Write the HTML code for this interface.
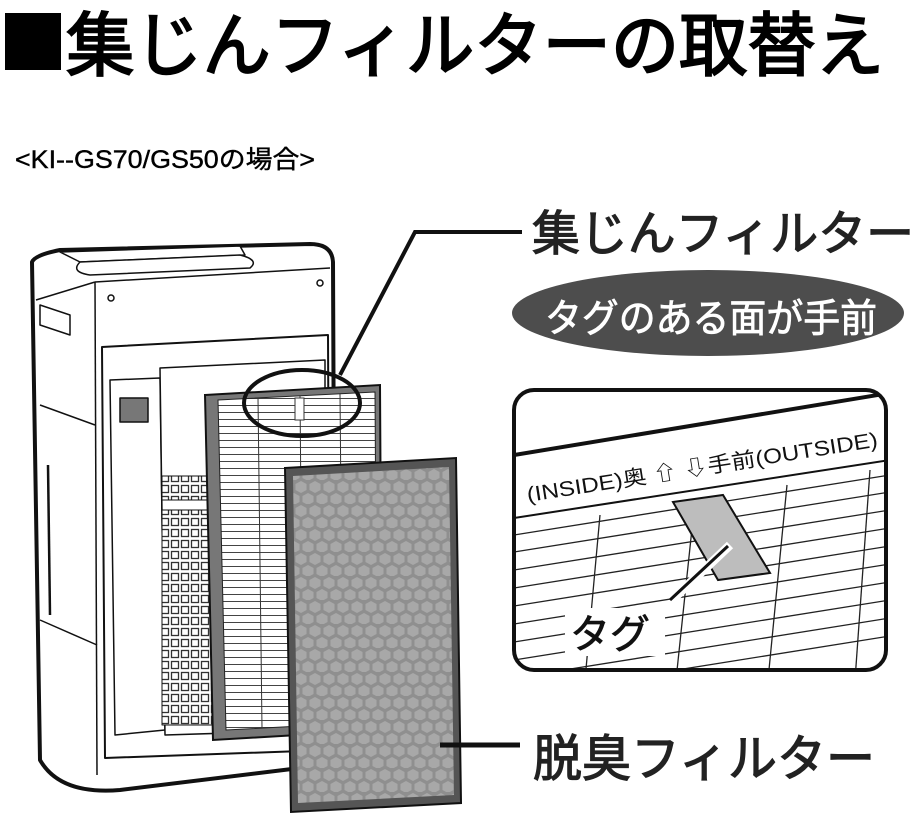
<!DOCTYPE html>
<html><head><meta charset="utf-8"><style>
html,body{margin:0;padding:0;background:#fff;}
svg{display:block;font-family:"Liberation Sans","Noto Sans CJK JP",sans-serif;}
</style></head><body>
<svg width="924" height="820" viewBox="0 0 924 820" xmlns="http://www.w3.org/2000/svg">
<defs>
<pattern id="hex" width="14" height="24" patternUnits="userSpaceOnUse">
<rect width="14" height="24" fill="#8f8f8f"/>
<polygon points="7,1 12.5,4 12.5,10 7,13 1.5,10 1.5,4" fill="#a8a8a8"/>
<polygon points="0,13 5.5,16 5.5,22 0,25 -5.5,22 -5.5,16" fill="#a8a8a8"/>
<polygon points="14,13 19.5,16 19.5,22 14,25 8.5,22 8.5,16" fill="#a8a8a8"/>
</pattern>
<pattern id="pleat" width="6" height="7" patternUnits="userSpaceOnUse">
<rect width="6" height="7" fill="#fff"/><line x1="0" y1="6.5" x2="6" y2="6.5" stroke="#444" stroke-width="1"/>
</pattern>
<pattern id="grid" width="10" height="11" patternUnits="userSpaceOnUse">
<rect width="10" height="11" fill="#fff"/><rect x="1.5" y="1.5" width="7" height="7" fill="none" stroke="#333" stroke-width="1.3"/>
</pattern>
<clipPath id="cb"><rect x="514" y="390" width="372" height="280" rx="20"/></clipPath>
</defs>

<!-- title -->
<rect x="5" y="13" width="56" height="57" fill="#000"/>
<text x="66" y="70" font-size="70" textLength="818" lengthAdjust="spacingAndGlyphs" stroke="#000" stroke-width="2">集じんフィルターの取替え</text>
<text x="15" y="168" font-size="25" textLength="300" lengthAdjust="spacingAndGlyphs" stroke="#000" stroke-width="0.4">&lt;KI--GS70/GS50の場合&gt;</text>

<!-- purifier body -->
<g fill="#fff" stroke="#111" stroke-linejoin="round">
<path d="M32,262 Q35,255 60,250 L310,244 Q332,244 333,262 L335,730 Q335,760 300,768 L120,790 Q60,795 40,760 Z" stroke-width="4"/>
<path d="M60,252 L240,246 L245,255 L80,262 Z" stroke-width="1.5"/>
<path d="M80,262 L240,255 Q260,260 250,268 L90,275 Q70,272 80,262Z" stroke-width="1.5"/>
<path d="M95,282 L330,268" stroke-width="1.5"/>
<path d="M95,282 L97,775" stroke-width="1.5"/>
<path d="M36,300 L95,282" stroke-width="1.5"/>
<path d="M40,305 L70,315 L70,335 L40,325 Z" stroke-width="1.5"/>
<path d="M40,405 L95,425" stroke-width="1.5"/>
<path d="M40,620 L97,645" stroke-width="1.5"/>
<path d="M48,465 L50,615" stroke-width="2.5"/>
<circle cx="111" cy="298" r="3" stroke-width="1.5"/>
<circle cx="320" cy="283" r="3" stroke-width="1.5"/>
<path d="M102,347 L328,335 L330,750 L105,758 Z" stroke-width="2"/>
<path d="M110,380 L160,378 L165,730 L115,735 Z" stroke-width="1.5"/>
<rect x="120" y="398" width="28" height="24" fill="#777" stroke-width="1.5"/>
<path d="M160,368 L325,360 L325,730 L165,735 Z" stroke-width="1.5"/>
<rect x="162" y="476" width="50" height="24" fill="url(#grid)" stroke-width="1"/>
<rect x="162" y="510" width="50" height="215" fill="url(#grid)" stroke-width="1"/>
</g>

<!-- collection filter -->
<path d="M205,395 L380,385 L382,730 L213,740 Z" fill="#777" stroke="#111" stroke-width="2"/>
<path d="M218,400 L375,392 L377,722 L226,730 Z" fill="url(#pleat)" stroke="#222" stroke-width="1"/>
<g stroke="#333" stroke-width="1">
<line x1="258" y1="398" x2="262" y2="728"/><line x1="300" y1="396" x2="303" y2="726"/><line x1="340" y1="394" x2="343" y2="724"/>
</g>
<rect x="295" y="398" width="9" height="22" fill="#fff" stroke="#333" stroke-width="1"/>
<ellipse cx="302" cy="403" rx="58" ry="33" fill="none" stroke="#111" stroke-width="4"/>
<polyline points="340,375 415,232 522,232" fill="none" stroke="#111" stroke-width="4"/>

<!-- deodorizing filter -->
<path d="M285,468 L456,458 L461,803 L291,812 Z" fill="#555" stroke="#111" stroke-width="2"/>
<path d="M293,476 L449,467 L454,795 L298,803 Z" fill="url(#hex)"/>
<line x1="440" y1="745" x2="520" y2="745" stroke="#111" stroke-width="5"/>

<!-- labels -->
<text x="532" y="250" font-size="48" textLength="382" lengthAdjust="spacingAndGlyphs" fill="#222" stroke="#222" stroke-width="1.2">集じんフィルター</text>
<ellipse cx="708" cy="313" rx="196" ry="43" fill="#4d4d4d"/>
<text x="545" y="332" font-size="39" textLength="332" lengthAdjust="spacingAndGlyphs" fill="#fff" stroke="#fff" stroke-width="0.8">タグのある面が手前</text>
<text x="533" y="776" font-size="50" textLength="342" lengthAdjust="spacingAndGlyphs" fill="#222" stroke="#222" stroke-width="1.2">脱臭フィルター</text>

<!-- callout box -->
<g clip-path="url(#cb)">
<rect x="514" y="390" width="372" height="280" fill="#fff"/>
<line x1="514" y1="455" x2="890" y2="393" stroke="#111" stroke-width="4"/>
<line x1="514" y1="518" x2="890" y2="460" stroke="#111" stroke-width="2"/>
<g stroke="#222" stroke-width="1.3">
<line x1="514" y1="535" x2="890" y2="475"/><line x1="514" y1="552" x2="890" y2="492"/>
<line x1="514" y1="570" x2="890" y2="510"/><line x1="514" y1="588" x2="890" y2="528"/>
<line x1="514" y1="606" x2="890" y2="546"/><line x1="514" y1="624" x2="890" y2="564"/>
<line x1="514" y1="642" x2="890" y2="582"/><line x1="514" y1="660" x2="890" y2="600"/>
<line x1="514" y1="678" x2="890" y2="618"/><line x1="514" y1="696" x2="890" y2="636"/>
<line x1="600" y1="515" x2="585" y2="680"/><line x1="695" y1="500" x2="676" y2="680"/>
<line x1="787" y1="485" x2="768" y2="680"/><line x1="870" y1="470" x2="855" y2="680"/>
</g>
<text transform="translate(528,502) rotate(-9)" font-size="21" fill="#111" textLength="355" lengthAdjust="spacingAndGlyphs">(INSIDE)奥 ⇧  ⇩手前(OUTSIDE)</text>
<path d="M673,502 L723,495 L770,573 L718,580 Z" fill="#bdbdbd" stroke="#111" stroke-width="2"/>
<line x1="730" y1="545" x2="672" y2="600" stroke="#fff" stroke-width="9"/>
<line x1="728" y1="546" x2="670" y2="600" stroke="#111" stroke-width="3"/>
<rect x="565" y="608" width="100" height="48" fill="#fff"/>
<text x="570" y="648" font-size="40" fill="#111" stroke="#111" stroke-width="0.8">タグ</text>
</g>
<rect x="514" y="390" width="372" height="280" rx="20" fill="none" stroke="#111" stroke-width="4"/>
</svg>
</body></html>
